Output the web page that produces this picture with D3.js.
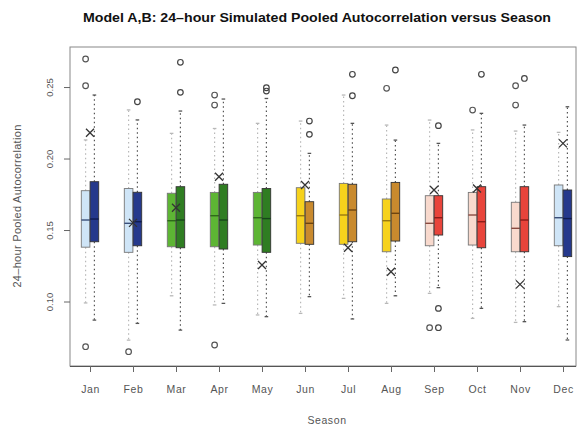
<!DOCTYPE html>
<html>
<head>
<meta charset="utf-8">
<script src="https://cdn.jsdelivr.net/npm/d3@7"></script>
<style>
  body { margin: 0; background: #fff; }
  svg { display: block; font-family: "Liberation Sans", Arial, sans-serif; }
</style>
</head>
<body>
<svg id="chart" width="581" height="428"></svg>
<script>
// Months on the x axis
const months = ["Jan","Feb","Mar","Apr","May","Jun","Jul","Aug","Sep","Oct","Nov","Dec"];

// Model A box statistics: lower whisker, Q1, median, Q3, upper whisker
const aLow  = [0.099, 0.073, 0.104, 0.0976, 0.0906, 0.0917, 0.1022, 0.0987, 0.1057, 0.0882, 0.0854, 0.0964];
const aQ1   = [0.138, 0.1344, 0.1383, 0.1383, 0.1395, 0.1407, 0.140, 0.1348, 0.139, 0.1395, 0.1348, 0.139];
const aMed  = [0.157, 0.1547, 0.1565, 0.160, 0.1586, 0.160, 0.1605, 0.1565, 0.1547, 0.1605, 0.1512, 0.1586];
const aQ3   = [0.1775, 0.179, 0.1757, 0.1763, 0.1763, 0.1796, 0.1826, 0.1717, 0.174, 0.1763, 0.1694, 0.1815];
const aHigh = [0.213, 0.234, 0.2176, 0.221, 0.2246, 0.2262, 0.2444, 0.2234, 0.2269, 0.220, 0.2192, 0.2183];

// Model B box statistics
const bLow  = [0.087, 0.0847, 0.080, 0.0987, 0.0894, 0.1034, 0.0878, 0.104, 0.1097, 0.0952, 0.0859, 0.0731];
const bQ1   = [0.1418, 0.139, 0.1376, 0.1367, 0.1344, 0.140, 0.1418, 0.1423, 0.1465, 0.1376, 0.1348, 0.1314];
const bMed  = [0.1577, 0.1558, 0.157, 0.157, 0.158, 0.1547, 0.164, 0.1617, 0.1586, 0.1558, 0.157, 0.158];
const bQ3   = [0.1838, 0.1764, 0.1803, 0.182, 0.179, 0.1698, 0.182, 0.1833, 0.174, 0.1803, 0.1803, 0.178];
const bHigh = [0.2444, 0.227, 0.2332, 0.2416, 0.242, 0.2036, 0.2246, 0.2129, 0.2106, 0.2316, 0.2234, 0.2362];

// Outlying values: [month, value]
const aOut = [["Jan",0.2696],["Jan",0.2509],["Jan",0.0684],["Feb",0.0649],["Apr",0.2444],["Apr",0.2374],
              ["Apr",0.0696],["Aug",0.2491],["Sep",0.0817],["Oct",0.2339],["Nov",0.2509],["Nov",0.2374]];
const bOut = [["Feb",0.2397],["Mar",0.2673],["Mar",0.2463],["May",0.2495],["May",0.2472],["Jun",0.2262],
              ["Jun",0.2169],["Jul",0.2589],["Jul",0.2439],["Aug",0.2619],["Sep",0.223],["Sep",0.0952],
              ["Sep",0.0817],["Oct",0.2589],["Nov",0.256]];

// Reference value per month, drawn as a cross
const refVal = [0.218, 0.155, 0.1656, 0.1873, 0.1255, 0.1815, 0.1376, 0.1208, 0.178, 0.179, 0.112, 0.2106];

const yTicks = [0.10, 0.15, 0.20, 0.25];

// Seasonal palettes (light = model A, dark = model B)
const fillA = ["#cfe5f7","#cfe5f7","#5db534","#5db534","#5db534","#f6d21c","#f6d21c","#f6d21c","#f8d9cd","#f8d9cd","#f8d9cd","#cfe5f7"];
const fillB = ["#25398c","#25398c","#2f7d22","#2f7d22","#2f7d22","#c98a2e","#c98a2e","#c98a2e","#e8443b","#e8443b","#e8443b","#25398c"];
const medA  = ["#3a4f7a","#3a4f7a","#2e6a1a","#2e6a1a","#2e6a1a","#9a7a10","#9a7a10","#9a7a10","#8a4a40","#8a4a40","#8a4a40","#3a4f7a"];
const medB  = ["#101c50","#101c50","#17461a","#17461a","#17461a","#6e4510","#6e4510","#6e4510","#8a1c18","#8a1c18","#8a1c18","#101c50"];

const svg = d3.select("#chart");
const L = 70, R = 576, T = 47, B = 366;

const x = d3.scalePoint().domain(months).range([90, 563]);
const y = d3.scaleLinear().domain([0.0549, 0.278]).range([B, T]);

const boxW = 8.6, off = 4.4;

// Title
svg.append("text")
  .attr("x", 83).attr("y", 21.5)
  .attr("font-weight", "bold").attr("font-size", 12.5)
  .attr("textLength", 468).attr("lengthAdjust", "spacingAndGlyphs")
  .attr("fill", "#111")
  .text("Model A,B: 24\u2013hour Simulated Pooled Autocorrelation versus Season");

// Plot frame
svg.append("rect")
  .attr("x", L).attr("y", T).attr("width", R - L).attr("height", B - T)
  .attr("fill", "none").attr("stroke", "#888").attr("stroke-width", 1);

// Axes
const xAxis = svg.append("g").attr("transform", `translate(0,${B})`)
  .call(d3.axisBottom(x).tickSize(6).tickPadding(14));
xAxis.select(".domain").attr("stroke", "#555").attr("d", `M${L},0.5H${R}`);
xAxis.selectAll(".tick line").attr("stroke", "#666");
xAxis.selectAll(".tick text").attr("font-size", 10.5).attr("fill", "#555")
  .attr("letter-spacing", 0.6)
  .attr("font-family", "'Liberation Sans', Arial, sans-serif");

const yAxis = svg.append("g").attr("transform", `translate(${L},0)`)
  .call(d3.axisLeft(y).tickValues(yTicks).tickSize(6).tickFormat(d3.format(".2f")));
yAxis.select(".domain").remove();
yAxis.selectAll(".tick line").attr("stroke", "#666");
yAxis.selectAll(".tick text")
  .attr("font-size", 9.5).attr("fill", "#555")
  .attr("font-family", "'Liberation Sans', Arial, sans-serif")
  .attr("text-anchor", "middle").attr("dy", null).attr("x", null)
  .attr("transform", "translate(-20,0) rotate(-90)")
  .attr("dominant-baseline", "middle");

// Axis titles
svg.append("text")
  .attr("x", 327).attr("y", 424).attr("text-anchor", "middle")
  .attr("font-size", 10.5).attr("letter-spacing", 0.6)
  .attr("fill", "#555").text("Season");
svg.append("text")
  .attr("transform", "translate(21,206) rotate(-90)")
  .attr("text-anchor", "middle")
  .attr("font-size", 11).attr("letter-spacing", 0.3)
  .attr("fill", "#555").text("24\u2013hour Pooled Autocorrelation");

// Box plots for one model
function drawBoxes(cls, shift, low, q1, med, q3, high, fills, meds, whiskColor, dash, border) {
  const g = svg.append("g").attr("class", cls);
  const rows = months.map((m, i) => ({ m, i, low: low[i], q1: q1[i], med: med[i], q3: q3[i], high: high[i] }));
  const grp = g.selectAll("g").data(rows).join("g")
    .attr("transform", d => `translate(${x(d.m) + shift},0)`);

  // whiskers
  grp.append("line").attr("x1", 0).attr("x2", 0)
    .attr("y1", d => y(d.q3)).attr("y2", d => y(d.high))
    .attr("stroke", whiskColor).attr("stroke-width", 1.2).attr("stroke-dasharray", dash);
  grp.append("line").attr("x1", 0).attr("x2", 0)
    .attr("y1", d => y(d.q1)).attr("y2", d => y(d.low))
    .attr("stroke", whiskColor).attr("stroke-width", 1.2).attr("stroke-dasharray", dash);
  // caps
  grp.selectAll("line.cap").data(d => [d.low, d.high]).join("line").attr("class", "cap")
    .attr("x1", -1.8).attr("x2", 1.8)
    .attr("y1", v => y(v)).attr("y2", v => y(v))
    .attr("stroke", whiskColor).attr("stroke-width", 1.3);
  // box
  grp.append("rect")
    .attr("x", -boxW / 2).attr("width", boxW)
    .attr("y", d => y(d.q3)).attr("height", d => y(d.q1) - y(d.q3))
    .attr("fill", d => fills[d.i]).attr("stroke", border).attr("stroke-width", 0.9);
  // median
  grp.append("line")
    .attr("x1", -boxW / 2).attr("x2", boxW / 2)
    .attr("y1", d => y(d.med)).attr("y2", d => y(d.med))
    .attr("stroke", d => meds[d.i]).attr("stroke-width", 1.4);
}

drawBoxes("modelA", -off, aLow, aQ1, aMed, aQ3, aHigh, fillA, medA, "#b8b8b8", "1.5,3", "#777");
drawBoxes("modelB",  off, bLow, bQ1, bMed, bQ3, bHigh, fillB, medB, "#555", "1.5,3", "#333");

// Outliers
svg.append("g").selectAll("circle").data(aOut).join("circle")
  .attr("cx", d => x(d[0]) - off).attr("cy", d => y(d[1])).attr("r", 2.8)
  .attr("fill", "none").attr("stroke", "#555").attr("stroke-width", 1.2);
svg.append("g").selectAll("circle").data(bOut).join("circle")
  .attr("cx", d => x(d[0]) + off).attr("cy", d => y(d[1])).attr("r", 2.8)
  .attr("fill", "none").attr("stroke", "#444").attr("stroke-width", 1.2);

// Reference crosses
svg.append("g").selectAll("path").data(months.map((m, i) => [m, refVal[i]])).join("path")
  .attr("d", d => {
    const cx = x(d[0]), cy = y(d[1]), s = 4;
    return `M${cx - s},${cy - s}L${cx + s},${cy + s}M${cx - s},${cy + s}L${cx + s},${cy - s}`;
  })
  .attr("stroke", "#333").attr("stroke-width", 1.3).attr("fill", "none");
</script>
</body>
</html>
